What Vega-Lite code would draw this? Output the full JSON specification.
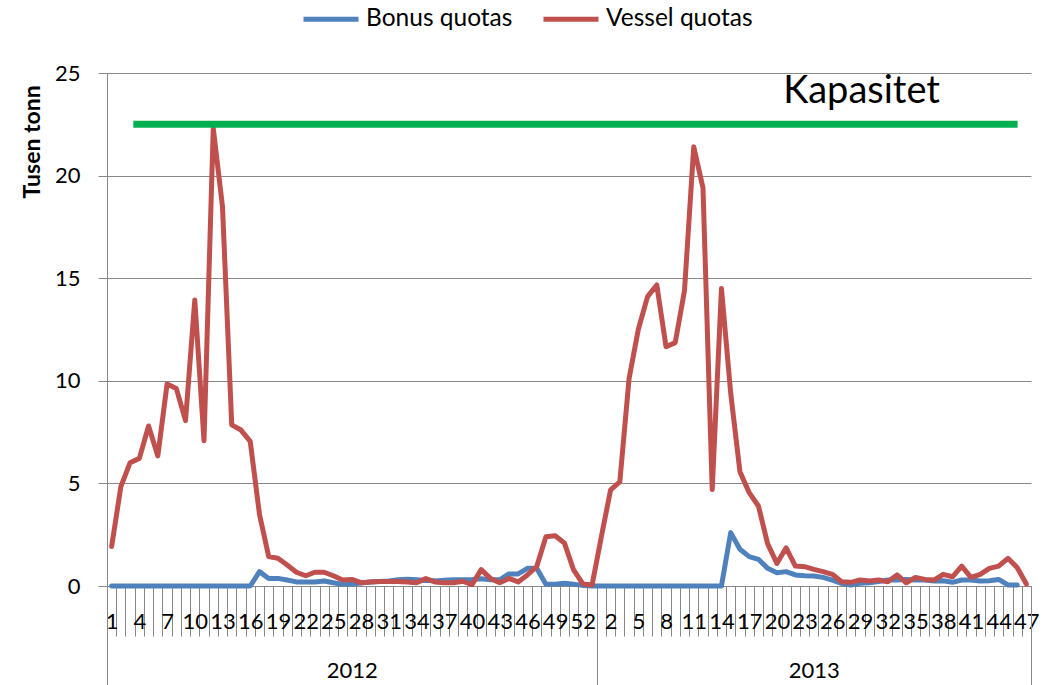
{
  "$schema": "https://vega.github.io/schema/vega-lite/v6.json",
  "width": 924,
  "height": 513,
  "autosize": {"type": "none"},
  "padding": {"left": 107, "top": 73, "right": 25, "bottom": 99},
  "background": "white",
  "config": {
    "font": "Lato",
    "view": {"stroke": null},
    "axisLeft": {
      "gridColor": "#888888", "gridWidth": 1,
      "domainColor": "#888888", "tickColor": "#888888", "tickSize": 9,
      "labelFontSize": 22, "labelColor": "#000000", "labelPadding": 18
    }
  },
  "datasets": {
    "weekly": [
      {"i":0,"year":2012,"week":1,"Bonus quotas":0,"Vessel quotas":1.92},
      {"i":1,"year":2012,"week":2,"Bonus quotas":0,"Vessel quotas":4.84},
      {"i":2,"year":2012,"week":3,"Bonus quotas":0,"Vessel quotas":6.01},
      {"i":3,"year":2012,"week":4,"Bonus quotas":0,"Vessel quotas":6.22},
      {"i":4,"year":2012,"week":5,"Bonus quotas":0,"Vessel quotas":7.8},
      {"i":5,"year":2012,"week":6,"Bonus quotas":0,"Vessel quotas":6.34},
      {"i":6,"year":2012,"week":7,"Bonus quotas":0,"Vessel quotas":9.84},
      {"i":7,"year":2012,"week":8,"Bonus quotas":0,"Vessel quotas":9.63},
      {"i":8,"year":2012,"week":9,"Bonus quotas":0,"Vessel quotas":8.06},
      {"i":9,"year":2012,"week":10,"Bonus quotas":0,"Vessel quotas":13.94},
      {"i":10,"year":2012,"week":11,"Bonus quotas":0,"Vessel quotas":7.08},
      {"i":11,"year":2012,"week":12,"Bonus quotas":0,"Vessel quotas":22.3},
      {"i":12,"year":2012,"week":13,"Bonus quotas":0,"Vessel quotas":18.48},
      {"i":13,"year":2012,"week":14,"Bonus quotas":0,"Vessel quotas":7.85},
      {"i":14,"year":2012,"week":15,"Bonus quotas":0,"Vessel quotas":7.6},
      {"i":15,"year":2012,"week":16,"Bonus quotas":0,"Vessel quotas":7.05},
      {"i":16,"year":2012,"week":17,"Bonus quotas":0.7,"Vessel quotas":3.5},
      {"i":17,"year":2012,"week":18,"Bonus quotas":0.37,"Vessel quotas":1.43},
      {"i":18,"year":2012,"week":19,"Bonus quotas":0.37,"Vessel quotas":1.35},
      {"i":19,"year":2012,"week":20,"Bonus quotas":0.29,"Vessel quotas":1.02},
      {"i":20,"year":2012,"week":21,"Bonus quotas":0.2,"Vessel quotas":0.67},
      {"i":21,"year":2012,"week":22,"Bonus quotas":0.2,"Vessel quotas":0.5},
      {"i":22,"year":2012,"week":23,"Bonus quotas":0.2,"Vessel quotas":0.67},
      {"i":23,"year":2012,"week":24,"Bonus quotas":0.24,"Vessel quotas":0.67},
      {"i":24,"year":2012,"week":25,"Bonus quotas":0.16,"Vessel quotas":0.5},
      {"i":25,"year":2012,"week":26,"Bonus quotas":0.08,"Vessel quotas":0.29},
      {"i":26,"year":2012,"week":27,"Bonus quotas":0.1,"Vessel quotas":0.32},
      {"i":27,"year":2012,"week":28,"Bonus quotas":0.15,"Vessel quotas":0.16},
      {"i":28,"year":2012,"week":29,"Bonus quotas":0.2,"Vessel quotas":0.2},
      {"i":29,"year":2012,"week":30,"Bonus quotas":0.22,"Vessel quotas":0.22},
      {"i":30,"year":2012,"week":31,"Bonus quotas":0.25,"Vessel quotas":0.22},
      {"i":31,"year":2012,"week":32,"Bonus quotas":0.3,"Vessel quotas":0.22},
      {"i":32,"year":2012,"week":33,"Bonus quotas":0.33,"Vessel quotas":0.2},
      {"i":33,"year":2012,"week":34,"Bonus quotas":0.3,"Vessel quotas":0.16},
      {"i":34,"year":2012,"week":35,"Bonus quotas":0.27,"Vessel quotas":0.36},
      {"i":35,"year":2012,"week":36,"Bonus quotas":0.25,"Vessel quotas":0.2},
      {"i":36,"year":2012,"week":37,"Bonus quotas":0.28,"Vessel quotas":0.16},
      {"i":37,"year":2012,"week":38,"Bonus quotas":0.3,"Vessel quotas":0.16},
      {"i":38,"year":2012,"week":39,"Bonus quotas":0.3,"Vessel quotas":0.23},
      {"i":39,"year":2012,"week":40,"Bonus quotas":0.32,"Vessel quotas":0.06},
      {"i":40,"year":2012,"week":41,"Bonus quotas":0.35,"Vessel quotas":0.8},
      {"i":41,"year":2012,"week":42,"Bonus quotas":0.3,"Vessel quotas":0.37},
      {"i":42,"year":2012,"week":43,"Bonus quotas":0.3,"Vessel quotas":0.16},
      {"i":43,"year":2012,"week":44,"Bonus quotas":0.59,"Vessel quotas":0.37},
      {"i":44,"year":2012,"week":45,"Bonus quotas":0.59,"Vessel quotas":0.2},
      {"i":45,"year":2012,"week":46,"Bonus quotas":0.86,"Vessel quotas":0.54},
      {"i":46,"year":2012,"week":47,"Bonus quotas":0.86,"Vessel quotas":0.94},
      {"i":47,"year":2012,"week":48,"Bonus quotas":0.08,"Vessel quotas":2.4},
      {"i":48,"year":2012,"week":49,"Bonus quotas":0.08,"Vessel quotas":2.45},
      {"i":49,"year":2012,"week":50,"Bonus quotas":0.13,"Vessel quotas":2.1},
      {"i":50,"year":2012,"week":51,"Bonus quotas":0.08,"Vessel quotas":0.78},
      {"i":51,"year":2012,"week":52,"Bonus quotas":0.03,"Vessel quotas":0.1},
      {"i":52,"year":2012,"week":53,"Bonus quotas":0,"Vessel quotas":0.05},
      {"i":53,"year":2013,"week":1,"Bonus quotas":0,"Vessel quotas":2.4},
      {"i":54,"year":2013,"week":2,"Bonus quotas":0,"Vessel quotas":4.68},
      {"i":55,"year":2013,"week":3,"Bonus quotas":0,"Vessel quotas":5.08},
      {"i":56,"year":2013,"week":4,"Bonus quotas":0,"Vessel quotas":10.1},
      {"i":57,"year":2013,"week":5,"Bonus quotas":0,"Vessel quotas":12.5},
      {"i":58,"year":2013,"week":6,"Bonus quotas":0,"Vessel quotas":14.1},
      {"i":59,"year":2013,"week":7,"Bonus quotas":0,"Vessel quotas":14.67},
      {"i":60,"year":2013,"week":8,"Bonus quotas":0,"Vessel quotas":11.66},
      {"i":61,"year":2013,"week":9,"Bonus quotas":0,"Vessel quotas":11.86},
      {"i":62,"year":2013,"week":10,"Bonus quotas":0,"Vessel quotas":14.4},
      {"i":63,"year":2013,"week":11,"Bonus quotas":0,"Vessel quotas":21.4},
      {"i":64,"year":2013,"week":12,"Bonus quotas":0,"Vessel quotas":19.4},
      {"i":65,"year":2013,"week":13,"Bonus quotas":0,"Vessel quotas":4.7},
      {"i":66,"year":2013,"week":14,"Bonus quotas":0,"Vessel quotas":14.5},
      {"i":67,"year":2013,"week":15,"Bonus quotas":2.6,"Vessel quotas":9.4},
      {"i":68,"year":2013,"week":16,"Bonus quotas":1.79,"Vessel quotas":5.57},
      {"i":69,"year":2013,"week":17,"Bonus quotas":1.43,"Vessel quotas":4.55},
      {"i":70,"year":2013,"week":18,"Bonus quotas":1.3,"Vessel quotas":3.9},
      {"i":71,"year":2013,"week":19,"Bonus quotas":0.86,"Vessel quotas":2.05},
      {"i":72,"year":2013,"week":20,"Bonus quotas":0.65,"Vessel quotas":1.1},
      {"i":73,"year":2013,"week":21,"Bonus quotas":0.7,"Vessel quotas":1.86},
      {"i":74,"year":2013,"week":22,"Bonus quotas":0.54,"Vessel quotas":0.97},
      {"i":75,"year":2013,"week":23,"Bonus quotas":0.5,"Vessel quotas":0.94},
      {"i":76,"year":2013,"week":24,"Bonus quotas":0.49,"Vessel quotas":0.81},
      {"i":77,"year":2013,"week":25,"Bonus quotas":0.42,"Vessel quotas":0.7},
      {"i":78,"year":2013,"week":26,"Bonus quotas":0.29,"Vessel quotas":0.57},
      {"i":79,"year":2013,"week":27,"Bonus quotas":0.13,"Vessel quotas":0.21},
      {"i":80,"year":2013,"week":28,"Bonus quotas":0.05,"Vessel quotas":0.18},
      {"i":81,"year":2013,"week":29,"Bonus quotas":0.13,"Vessel quotas":0.29},
      {"i":82,"year":2013,"week":30,"Bonus quotas":0.16,"Vessel quotas":0.24},
      {"i":83,"year":2013,"week":31,"Bonus quotas":0.22,"Vessel quotas":0.29},
      {"i":84,"year":2013,"week":32,"Bonus quotas":0.29,"Vessel quotas":0.21},
      {"i":85,"year":2013,"week":33,"Bonus quotas":0.29,"Vessel quotas":0.54},
      {"i":86,"year":2013,"week":34,"Bonus quotas":0.32,"Vessel quotas":0.16},
      {"i":87,"year":2013,"week":35,"Bonus quotas":0.29,"Vessel quotas":0.42},
      {"i":88,"year":2013,"week":36,"Bonus quotas":0.29,"Vessel quotas":0.32},
      {"i":89,"year":2013,"week":37,"Bonus quotas":0.24,"Vessel quotas":0.29},
      {"i":90,"year":2013,"week":38,"Bonus quotas":0.26,"Vessel quotas":0.57},
      {"i":91,"year":2013,"week":39,"Bonus quotas":0.18,"Vessel quotas":0.45},
      {"i":92,"year":2013,"week":40,"Bonus quotas":0.29,"Vessel quotas":0.97},
      {"i":93,"year":2013,"week":41,"Bonus quotas":0.29,"Vessel quotas":0.42},
      {"i":94,"year":2013,"week":42,"Bonus quotas":0.24,"Vessel quotas":0.57},
      {"i":95,"year":2013,"week":43,"Bonus quotas":0.26,"Vessel quotas":0.86},
      {"i":96,"year":2013,"week":44,"Bonus quotas":0.32,"Vessel quotas":0.97},
      {"i":97,"year":2013,"week":45,"Bonus quotas":0.05,"Vessel quotas":1.35},
      {"i":98,"year":2013,"week":46,"Bonus quotas":0.05,"Vessel quotas":0.9},
      {"i":99,"year":2013,"week":47,"Bonus quotas":null,"Vessel quotas":0.1}
    ],
    "capacity": [
      {"label": "Kapasitet", "capacity": 22.5, "from": 2.35, "to": 98.05}
    ]
  },
  "resolve": {"axis": {"x": "independent", "y": "independent"}},
  "layer": [
    {
      "data": {"name": "weekly"},
      "transform": [{"fold": ["Bonus quotas", "Vessel quotas"], "as": ["series", "value"]}],
      "mark": {"type": "line", "strokeWidth": 5, "strokeJoin": "round", "strokeCap": "round"},
      "encoding": {
        "x": {
          "field": "i", "type": "quantitative",
          "scale": {"domain": [-0.5, 99.5], "nice": false, "zero": false},
          "axis": {
            "orient": "bottom", "title": null, "grid": false,
            "values": [-0.5,0.5,1.5,2.5,3.5,4.5,5.5,6.5,7.5,8.5,9.5,10.5,11.5,12.5,13.5,14.5,15.5,16.5,17.5,18.5,19.5,20.5,21.5,22.5,23.5,24.5,25.5,26.5,27.5,28.5,29.5,30.5,31.5,32.5,33.5,34.5,35.5,36.5,37.5,38.5,39.5,40.5,41.5,42.5,43.5,44.5,45.5,46.5,47.5,48.5,49.5,50.5,51.5,52.5,53.5,54.5,55.5,56.5,57.5,58.5,59.5,60.5,61.5,62.5,63.5,64.5,65.5,66.5,67.5,68.5,69.5,70.5,71.5,72.5,73.5,74.5,75.5,76.5,77.5,78.5,79.5,80.5,81.5,82.5,83.5,84.5,85.5,86.5,87.5,88.5,89.5,90.5,91.5,92.5,93.5,94.5,95.5,96.5,97.5,98.5,99.5],
            "labelExpr": "((datum.value + 0.5) % 3 == 0 && datum.value < 99) ? ('' + ((datum.value + 0.5) < 53 ? (datum.value + 1.5) : (datum.value + 0.5 - 52))) : ''",
            "domain": true, "domainColor": "#888888", "domainWidth": 1,
            "ticks": true, "tickColor": "#888888", "tickSize": 50, "tickWidth": 1,
            "labelOffset": 4.62, "labelPadding": -24.5, "labelFontSize": 22, "labelColor": "#000000",
            "labelBaseline": "top", "labelAlign": "center", "labelOverlap": false, "labelFlush": false, "labelBound": false
          }
        },
        "y": {
          "field": "value", "type": "quantitative",
          "scale": {"domain": [0, 25], "nice": false, "zero": true},
          "axis": {
            "orient": "left", "title": null, "values": [0, 5, 10, 15, 20, 25],
            "grid": true, "gridColor": "#888888", "gridWidth": 1,
            "domainColor": "#888888", "tickColor": "#888888", "tickSize": 9,
            "labelFontSize": 22, "labelColor": "#000000", "labelPadding": 18
          }
        },
        "color": {
          "field": "series", "type": "nominal",
          "scale": {"domain": ["Bonus quotas", "Vessel quotas"], "range": ["#4F81BD", "#C0504D"]},
          "legend": {
            "orient": "none", "legendX": 194, "legendY": -84, "direction": "horizontal", "title": null,
            "symbolType": "stroke", "symbolSize": 3025, "symbolStrokeWidth": 5,
            "labelFontSize": 24.5, "labelColor": "#000000", "labelOffset": 5, "columnPadding": 20, "padding": 0
          }
        }
      }
    },
    {
      "data": {"name": "capacity"},
      "mark": {"type": "rule", "color": "#00B050", "strokeWidth": 7, "strokeCap": "butt"},
      "encoding": {
        "x": {
          "field": "from", "type": "quantitative",
          "scale": {"domain": [-0.5, 99.5], "nice": false, "zero": false},
          "axis": {
            "orient": "bottom", "title": null, "grid": false, "domain": false, "ticks": false,
            "values": [26, 76],
            "labelExpr": "datum.value < 50 ? '2012' : '2013'",
            "labelPadding": 74.5, "labelFontSize": 22, "labelColor": "#000000",
            "labelBaseline": "top", "labelAlign": "center", "labelOverlap": false, "labelFlush": false
          }
        },
        "x2": {"field": "to"},
        "y": {"field": "capacity", "type": "quantitative", "scale": {"domain": [0, 25], "nice": false, "zero": true}, "axis": null}
      }
    },
    {
      "data": {"name": "capacity"},
      "mark": {"type": "text", "fontSize": 38, "align": "center", "baseline": "alphabetic", "color": "#000000"},
      "encoding": {
        "text": {"field": "label"},
        "x": {
          "datum": 81.16, "type": "quantitative",
          "scale": {"domain": [-0.5, 99.5], "nice": false, "zero": false},
          "axis": {
            "orient": "bottom", "title": null, "grid": false, "domain": false, "labels": false,
            "values": [-0.5, 52.5, 99.5],
            "ticks": true, "tickSize": 99, "tickColor": "#888888", "tickWidth": 1
          }
        },
        "y": {"datum": 23.52, "type": "quantitative", "scale": {"domain": [0, 25], "nice": false, "zero": true}, "axis": null}
      }
    },
    {
      "data": {"name": "capacity"},
      "mark": {"type": "text", "text": "Tusen tonn", "fontSize": 23, "fontWeight": "bold", "angle": 270, "align": "center", "baseline": "middle", "color": "#000000", "clip": false},
      "encoding": {
        "x": {"datum": -8.5, "type": "quantitative", "scale": {"domain": [-0.5, 99.5], "nice": false, "zero": false}, "axis": null},
        "y": {"datum": 21.64, "type": "quantitative", "scale": {"domain": [0, 25], "nice": false, "zero": true}, "axis": null}
      }
    }
  ]
}
